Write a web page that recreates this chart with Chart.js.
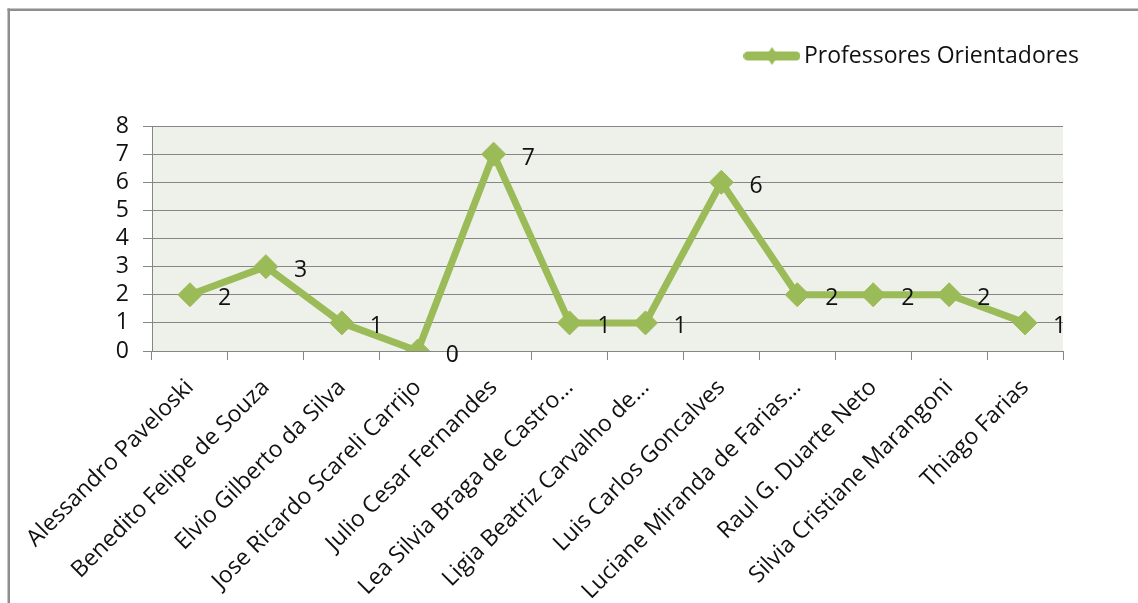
<!DOCTYPE html>
<html>
<head>
<meta charset="utf-8">
<script src="https://cdn.jsdelivr.net/npm/chart.js@4.4.1/dist/chart.umd.min.js"></script>
<style>
html,body{margin:0;padding:0;background:#fff;}
canvas{display:block;}
</style>
</head>
<body>
<canvas id="c" width="1138" height="603"></canvas>
<script>
// ---- data ----
const categories = [
  "Alessandro Paveloski",
  "Benedito Felipe de Souza",
  "Elvio Gilberto da Silva",
  "Jose Ricardo Scareli Carrijo",
  "Julio Cesar Fernandes",
  "Lea Silvia Braga de Castro…",
  "Ligia Beatriz Carvalho de…",
  "Luis Carlos Goncalves",
  "Luciane Miranda de Farias…",
  "Raul G. Duarte Neto",
  "Silvia Cristiane Marangoni",
  "Thiago Farias"
];
const seriesName = "Professores Orientadores";
const seriesValues = [2, 3, 1, 0, 7, 1, 1, 6, 2, 2, 2, 1];
const yMin = 0;
const yMax = 8;
const yStep = 1;

// ---- style ----
const FONT = "'Open Sans', sans-serif";
const GREEN = "#9BBB59";
const GRID = "#868686";
const TXT = "#111111";

// legend icon: thick line with diamond
const icon = document.createElement('canvas');
icon.width = 57; icon.height = 20;
(function(){
  const g = icon.getContext('2d');
  g.strokeStyle = GREEN; g.lineWidth = 9; g.lineCap = 'round';
  g.beginPath(); g.moveTo(4.5, 10); g.lineTo(52.5, 10); g.stroke();
  g.fillStyle = GREEN;
  g.beginPath(); g.moveTo(28.5, 1); g.lineTo(34.5, 10); g.lineTo(28.5, 19); g.lineTo(22.5, 10); g.closePath(); g.fill();
})();

const bgPlugin = {
  id: 'bg',
  beforeDraw(chart) {
    const ctx = chart.ctx, a = chart.chartArea;
    ctx.save();
    ctx.fillStyle = '#ffffff';
    ctx.fillRect(0, 0, chart.width, chart.height);
    ctx.fillStyle = '#8e8e8e';
    ctx.fillRect(7.5, 8.5, chart.width, 2.5);
    ctx.fillRect(7.5, 8.5, 2.5, chart.height);
    ctx.fillStyle = '#EEF1E9';
    ctx.fillRect(a.left, a.top, a.right - a.left, a.bottom - a.top);
    ctx.restore();
  }
};

const valueLabels = {
  id: 'valueLabels',
  afterDatasetsDraw(chart) {
    const ctx = chart.ctx;
    const meta = chart.getDatasetMeta(0);
    ctx.save();
    ctx.font = "23px " + FONT;
    ctx.fillStyle = TXT;
    ctx.textAlign = 'left';
    ctx.textBaseline = 'middle';
    meta.data.forEach((pt, i) => {
      ctx.fillText(String(chart.data.datasets[0].data[i]), pt.x + 28, pt.y + 4);
    });
    ctx.restore();
  }
};

new Chart(document.getElementById('c'), {
  type: 'line',
  data: {
    labels: categories,
    datasets: [{
      label: seriesName,
      data: seriesValues,
      borderColor: GREEN,
      backgroundColor: GREEN,
      borderWidth: 7,
      borderJoinStyle: 'round',
      tension: 0,
      fill: false,
      pointStyle: 'rectRot',
      pointRadius: 12,
      pointBorderWidth: 1,
      pointBackgroundColor: GREEN,
      pointBorderColor: GREEN
    }]
  },
  options: {
    responsive: false,
    animation: false,
    devicePixelRatio: 1,
    layout: { padding: { top: 34.5, left: 0, right: 49, bottom: 0 } },
    plugins: {
      legend: {
        display: true,
        position: 'top',
        align: 'end',
        labels: {
          usePointStyle: true,
          pointStyle: icon,
          pointStyleWidth: 41,
          padding: 10,
          color: TXT,
          font: { family: FONT, size: 23 }
        }
      },
      subtitle: {
        display: true,
        text: '',
        position: 'top',
        weight: 500,
        font: { family: FONT, size: 10, lineHeight: 1 },
        padding: { top: 0, bottom: 38.5 }
      },
      tooltip: { enabled: false }
    },
    scales: {
      x: {
        offset: true,
        grid: { display: true, offset: true, drawOnChartArea: false, drawTicks: true, tickLength: 9, color: GRID },
        border: { display: true, color: GRID, width: 1 },
        ticks: { minRotation: 45, maxRotation: 45, autoSkip: false, color: TXT, padding: 14, font: { family: FONT, size: 23 } },
        afterFit(s) { s.height = 252; }
      },
      y: {
        min: yMin, max: yMax,
        ticks: { stepSize: yStep, autoSkip: false, color: TXT, padding: 14, font: { family: FONT, size: 23 } },
        grid: { color: GRID, tickLength: 9, drawTicks: true },
        border: { display: true, color: GRID, width: 1 },
        afterFit(s) { s.width = 152; }
      },
      yR: {
        position: 'right',
        display: true,
        grid: { display: false },
        border: { display: false },
        ticks: { display: false },
        afterFit(s) { s.width = 26; }
      }
    }
  },
  plugins: [bgPlugin, valueLabels]
});
</script>
</body>
</html>
